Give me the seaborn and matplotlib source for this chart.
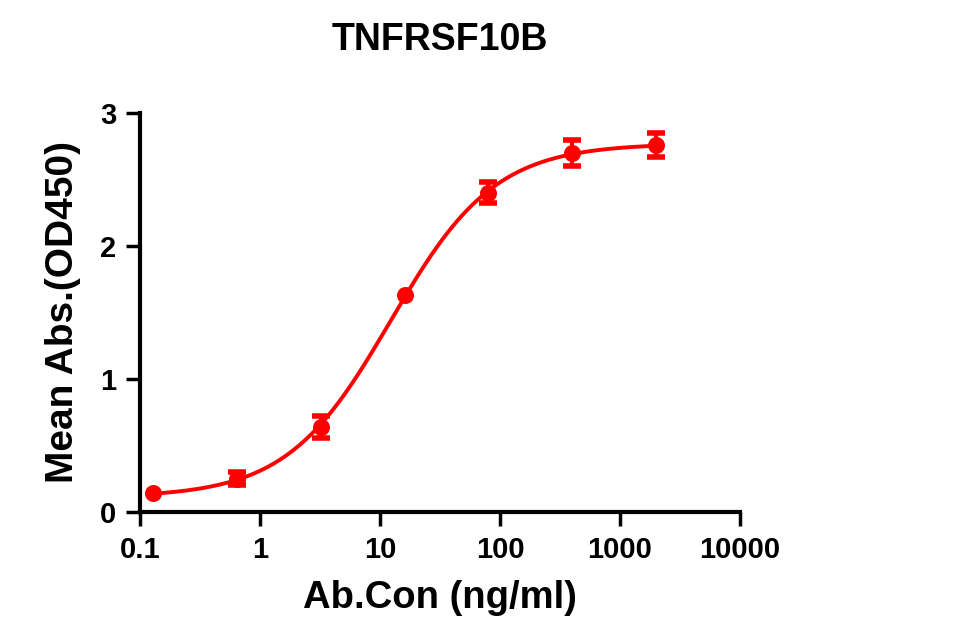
import numpy as np
import pandas as pd
import matplotlib
matplotlib.use("Agg")
import matplotlib.pyplot as plt
import seaborn as sns

# Data
conc = [0.128, 0.64, 3.2, 16, 80, 400, 2000]
mean_abs = [0.14, 0.25, 0.64, 1.63, 2.40, 2.70, 2.76]
sem = [0.0, 0.05, 0.08, 0.0, 0.08, 0.10, 0.09]
x_ticks = [0.1, 1, 10, 100, 1000, 10000]
x_tick_labels = ["0.1", "1", "10", "100", "1000", "10000"]
y_ticks = [0, 1, 2, 3]
title = "TNFRSF10B"
x_label = "Ab.Con (ng/ml)"
y_label = "Mean Abs.(OD450)"
color = "#ff0000"

# 4PL fit (least squares grid search on the data)
xd = np.array(conc, float)
yd = np.array(mean_abs, float)
best = None
for b in np.linspace(0.05, 0.2, 16):
    for t in np.linspace(2.6, 2.9, 31):
        for lec in np.linspace(0.8, 1.4, 61):
            for h in np.linspace(0.8, 1.4, 31):
                pred = b + (t - b) / (1 + (10 ** lec / xd) ** h)
                err = np.sum((pred - yd) ** 2)
                if best is None or err < best[0]:
                    best = (err, b, t, lec, h)
_, b, t, lec, h = best
xf = np.logspace(np.log10(conc[0]), np.log10(conc[-1]), 300)
yf = b + (t - b) / (1 + (10 ** lec / xf) ** h)

sns.set_theme(style="ticks")
plt.rcParams["font.family"] = ["Liberation Sans", "DejaVu Sans"]
plt.rcParams["font.weight"] = "bold"

fig = plt.figure(figsize=(9.8, 6.42), dpi=100)
ax = fig.add_axes([0.1429, 0.2025, 0.6122, 0.6215])

fit_df = pd.DataFrame({"x": xf, "y": yf})
pts_df = pd.DataFrame({"x": conc, "y": mean_abs, "sem": sem})
err_df = pts_df[pts_df["sem"] > 0]
sns.lineplot(data=fit_df, x="x", y="y", ax=ax, color=color, lw=2.8)
ax.errorbar(err_df["x"], err_df["y"], yerr=err_df["sem"], fmt="none", ecolor=color,
            elinewidth=3, capsize=6.5, capthick=4, zorder=3)
sns.scatterplot(data=pts_df, x="x", y="y", ax=ax, color=color, s=150,
                edgecolor=color, linewidth=0, zorder=4)

ax.set_xscale("log")
ax.set_xlim(0.1, 10000)
ax.set_ylim(0, 3)
ax.set_xticks(x_ticks)
ax.set_xticklabels(x_tick_labels)
ax.xaxis.set_minor_locator(matplotlib.ticker.NullLocator())
ax.set_yticks(y_ticks)
ax.set_yticklabels([str(v) for v in y_ticks])

for s in ["top", "right"]:
    ax.spines[s].set_visible(False)
for s in ["left", "bottom"]:
    ax.spines[s].set_linewidth(3)
    ax.spines[s].set_color("black")
ax.tick_params(axis="both", which="major", length=10, width=2.5, color="black",
               labelsize=21, labelcolor="black", pad=7)
for lab in ax.get_xticklabels() + ax.get_yticklabels():
    lab.set_fontweight("bold")

ax.set_xlabel(x_label, fontsize=27.5, fontweight="bold", labelpad=12, color="black")
ax.set_ylabel(y_label, fontsize=28, fontweight="bold", labelpad=14, color="black")
ax.set_title(title, fontsize=27, fontweight="bold", pad=45, color="black")

fig.savefig("out.png", dpi=100)
